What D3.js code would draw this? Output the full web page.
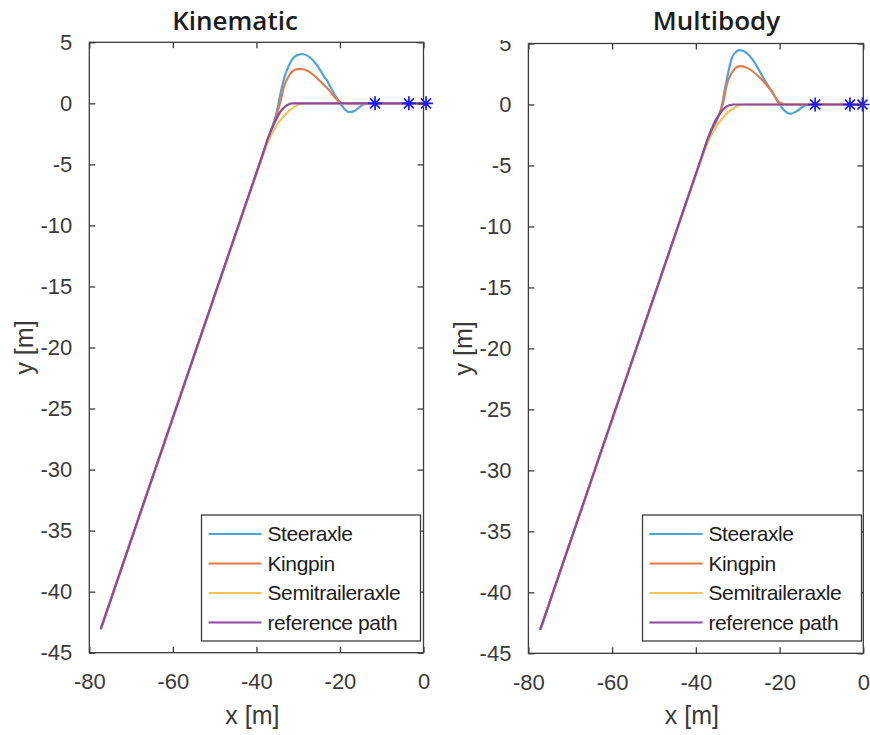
<!DOCTYPE html>
<html><head><meta charset="utf-8">
<script src="https://cdn.jsdelivr.net/npm/d3@7"></script>
<style>body{margin:0;background:#fff}svg{display:block}</style>
</head><body>
<svg id="c" width="870" height="735"></svg>
<script>
// ---------- data ----------
const titles = ["Kinematic", "Multibody"];
const seriesNames = ["Steeraxle", "Kingpin", "Semitraileraxle", "reference path"];
const xTicks = [-80, -60, -40, -20, 0];
const yTicks = [5, 0, -5, -10, -15, -20, -25, -30, -35, -40, -45];
const xLabel = "x [m]";
const yLabel = "y [m]";

// Kinematic panel
const kinSteerX = [-77.2, -38.4, -36.6, -35.6, -35.0, -34.3, -33.1, -32.3, -31.5, -30.5, -29.1, -27.5, -25.9, -24.3, -23.5, -23.1, -22.7, -21.9, -20.3, -19.1, -17.9, -16.7, -15.1, -13.9, -12.0, 0];
const kinSteerY = [-43.0, -4.1, -2.3, -1.3, -0.5, 0.7, 2.34, 3.05, 3.57, 3.9, 4.04, 3.85, 3.3, 2.48, 2.05, 1.9, 1.6, 1.11, 0.16, -0.38, -0.71, -0.66, -0.25, -0.02, 0, 0];
const kinKingX = [-77.2, -38.4, -36.6, -35.4, -34.6, -34.0, -33.5, -32.3, -30.7, -29.5, -27.5, -25.1, -22.7, -20.7, -19.5, -18.0, 0];
const kinKingY = [-43.0, -4.1, -2.3, -1.2, -0.3, 0.5, 1.25, 2.2, 2.75, 2.83, 2.62, 1.93, 1.11, 0.3, 0.05, 0, 0];
const kinSemiX = [-77.2, -38.5, -37.0, -35.5, -34.3, -33.1, -32.0, -30.7, -29.5, -28.0, 0];
const kinSemiY = [-43.0, -4.3, -3.0, -2.0, -1.4, -0.93, -0.55, -0.25, -0.05, 0, 0];
const kinRefX = [-77.2, -38.4, -37.1, -36.0, -35.1, -34.3, -33.5, -32.5, -31.5, 0];
const kinRefY = [-43.0, -4.1, -2.75, -1.85, -1.2, -0.7, -0.38, -0.12, 0, 0];
const kinStarX = [-11.6, -3.5, 0.6];
const kinStarY = [0, 0, 0];

// Multibody panel
const mbSteerX = [-77.1, -38.4, -36.5, -35.3, -34.5, -34.0, -33.5, -33.0, -32.2, -31.4, -30.2, -29.5, -27.9, -25.9, -23.9, -21.9, -20.1, -18.7, -17.5, -15.9, -13.9, -12.0, 0];
const mbSteerY = [-43.0, -4.1, -2.2, -1.3, -0.9, -0.4, 0.4, 1.37, 2.73, 3.83, 4.38, 4.46, 4.24, 3.42, 2.19, 1.09, 0.06, -0.55, -0.77, -0.55, -0.08, 0, 0];
const mbKingX = [-77.1, -38.4, -36.5, -35.0, -34.3, -33.4, -32.6, -31.4, -29.5, -27.5, -24.7, -21.9, -19.9, -18.0, 0];
const mbKingY = [-43.0, -4.1, -2.3, -1.3, -0.7, 0.27, 1.64, 2.6, 3.14, 2.96, 2.19, 1.09, 0.14, 0, 0];
const mbSemiX = [-77.1, -38.5, -37.0, -35.5, -34.3, -33.1, -32.0, -30.7, -29.5, -28.0, 0];
const mbSemiY = [-43.0, -4.3, -3.0, -2.0, -1.4, -0.93, -0.55, -0.25, -0.05, 0, 0];
const mbRefX = [-77.1, -38.4, -37.1, -36.0, -35.0, -34.0, -33.0, -32.0, -31.0, 0];
const mbRefY = [-43.0, -4.1, -2.8, -1.9, -1.15, -0.6, -0.25, -0.07, 0, 0];
const mbStarX = [-11.5, -3.2, -0.2];
const mbStarY = [0, 0, 0];

// ---------- style / layout ----------
const colors = ["#4fa3da", "#e17a4c", "#f2c35c", "#8d48a3"];
const starColor = "#1a1aff";
const axisColor = "#3c3c3c";
const textColor = "#3a3a3a";
const tickFont = "Liberation Sans, Arial, sans-serif";

const panels = [
  { title: titles[0], titleX: 235, left: 89.3, right: 423.5, top: 42.3, bottom: 652.7,
    series: [[kinSteerX, kinSteerY], [kinKingX, kinKingY], [kinSemiX, kinSemiY], [kinRefX, kinRefY]],
    stars: [kinStarX, kinStarY], legend: { x: 201.5, y: 515, w: 219, h: 126 }, ylabX: 24 },
  { title: titles[1], titleX: 716.5, left: 528.4, right: 863.3, top: 43.5, bottom: 653.3,
    series: [[mbSteerX, mbSteerY], [mbKingX, mbKingY], [mbSemiX, mbSemiY], [mbRefX, mbRefY]],
    stars: [mbStarX, mbStarY], legend: { x: 642.5, y: 515, w: 219, h: 126 }, ylabX: 463 }
];

const svg = d3.select("#c");
const fmt = d => String(d);

panels.forEach((p, pi) => {
  const x = d3.scaleLinear().domain([-80, 0]).range([p.left, p.right]);
  const y = d3.scaleLinear().domain([-45, 5]).range([p.bottom, p.top]);
  const g = svg.append("g");

  // title
  g.append("text").attr("x", p.titleX).attr("y", 30)
    .attr("text-anchor", "middle")
    .attr("font-family", "Open Sans, Noto Sans, sans-serif")
    .attr("font-weight", 600).attr("font-size", 26)
    .attr("fill", "#1c1c1c").text(p.title);

  // lines: straight first segment, smooth remainder
  const mono = d3.line().x(d => x(d[0])).y(d => y(d[1])).curve(d3.curveMonotoneX);
  p.series.forEach((s, i) => {
    const pts = s[0].map((v, k) => [v, s[1][k]]);
    const d = `M${x(pts[0][0])},${y(pts[0][1])}` + mono(pts.slice(1)).replace(/^M/, "L");
    g.append("path").attr("d", d).attr("fill", "none")
      .attr("stroke", colors[i]).attr("stroke-width", 2.2)
      .attr("stroke-linejoin", "round").attr("stroke-linecap", "round");
  });

  // stars (MATLAB '*' marker)
  const r = 7;
  p.stars[0].forEach((sx, k) => {
    const cx = x(sx), cy = y(p.stars[1][k]);
    const d = r * Math.SQRT1_2;
    g.append("path")
      .attr("d", `M${cx - r},${cy}L${cx + r},${cy}M${cx},${cy - r}L${cx},${cy + r}` +
                 `M${cx - d},${cy - d}L${cx + d},${cy + d}M${cx - d},${cy + d}L${cx + d},${cy - d}`)
      .attr("stroke", starColor).attr("stroke-width", 1.7).attr("fill", "none");
  });

  // axes box
  g.append("rect").attr("x", p.left).attr("y", p.top)
    .attr("width", p.right - p.left).attr("height", p.bottom - p.top)
    .attr("fill", "none").attr("stroke", axisColor).attr("stroke-width", 1.3);

  const xa = g.append("g").attr("transform", `translate(0,${p.bottom})`)
    .call(d3.axisBottom(x).tickValues(xTicks).tickSize(-6).tickFormat(fmt));
  const xaTop = g.append("g").attr("transform", `translate(0,${p.top})`)
    .call(d3.axisTop(x).tickValues(xTicks).tickSize(-6).tickFormat(""));
  const ya = g.append("g").attr("transform", `translate(${p.left},0)`)
    .call(d3.axisLeft(y).tickValues(yTicks).tickSize(-6).tickPadding(17).tickFormat(fmt));
  const yaR = g.append("g").attr("transform", `translate(${p.right},0)`)
    .call(d3.axisRight(y).tickValues(yTicks).tickSize(-6).tickFormat(""));
  [xa, xaTop, ya, yaR].forEach(a => {
    a.select(".domain").remove();
    a.selectAll(".tick line").attr("stroke", axisColor).attr("stroke-width", 1.3);
    a.selectAll(".tick text").attr("fill", textColor)
      .attr("font-family", tickFont).attr("font-size", 22);
  });
  xa.selectAll(".tick text").attr("dy", "0.35em").attr("y", 29);

  // axis labels
  g.append("text").attr("x", (p.left + p.right) / 2 - 4).attr("y", 724)
    .attr("text-anchor", "middle").attr("font-family", tickFont).attr("font-size", 25)
    .attr("fill", textColor).text(xLabel);
  g.append("text").attr("transform", `translate(${p.ylabX + 9},${(p.top + p.bottom) / 2}) rotate(-90)`)
    .attr("text-anchor", "middle").attr("font-family", tickFont).attr("font-size", 25)
    .attr("fill", textColor).text(yLabel);

  // legend
  const L = p.legend;
  const lg = g.append("g");
  lg.append("rect").attr("x", L.x).attr("y", L.y).attr("width", L.w).attr("height", L.h)
    .attr("fill", "#fff").attr("stroke", axisColor).attr("stroke-width", 1.3);
  seriesNames.forEach((n, i) => {
    const yy = L.y + 19 + i * 29.5;
    lg.append("line").attr("x1", L.x + 7).attr("x2", L.x + 60).attr("y1", yy).attr("y2", yy)
      .attr("stroke", colors[i]).attr("stroke-width", 2.2);
    lg.append("text").attr("x", L.x + 66).attr("y", yy).attr("dy", "0.35em")
      .attr("font-family", tickFont).attr("font-size", 21).attr("fill", "#1c1c1c")
      .attr("letter-spacing", -0.4).text(n);
  });
});

// the right panel's top "5" is partly covered in the reference
svg.append("rect").attr("x", 495).attr("y", 0).attr("width", 30).attr("height", 40).attr("fill", "#fff");
</script>
</body></html>
